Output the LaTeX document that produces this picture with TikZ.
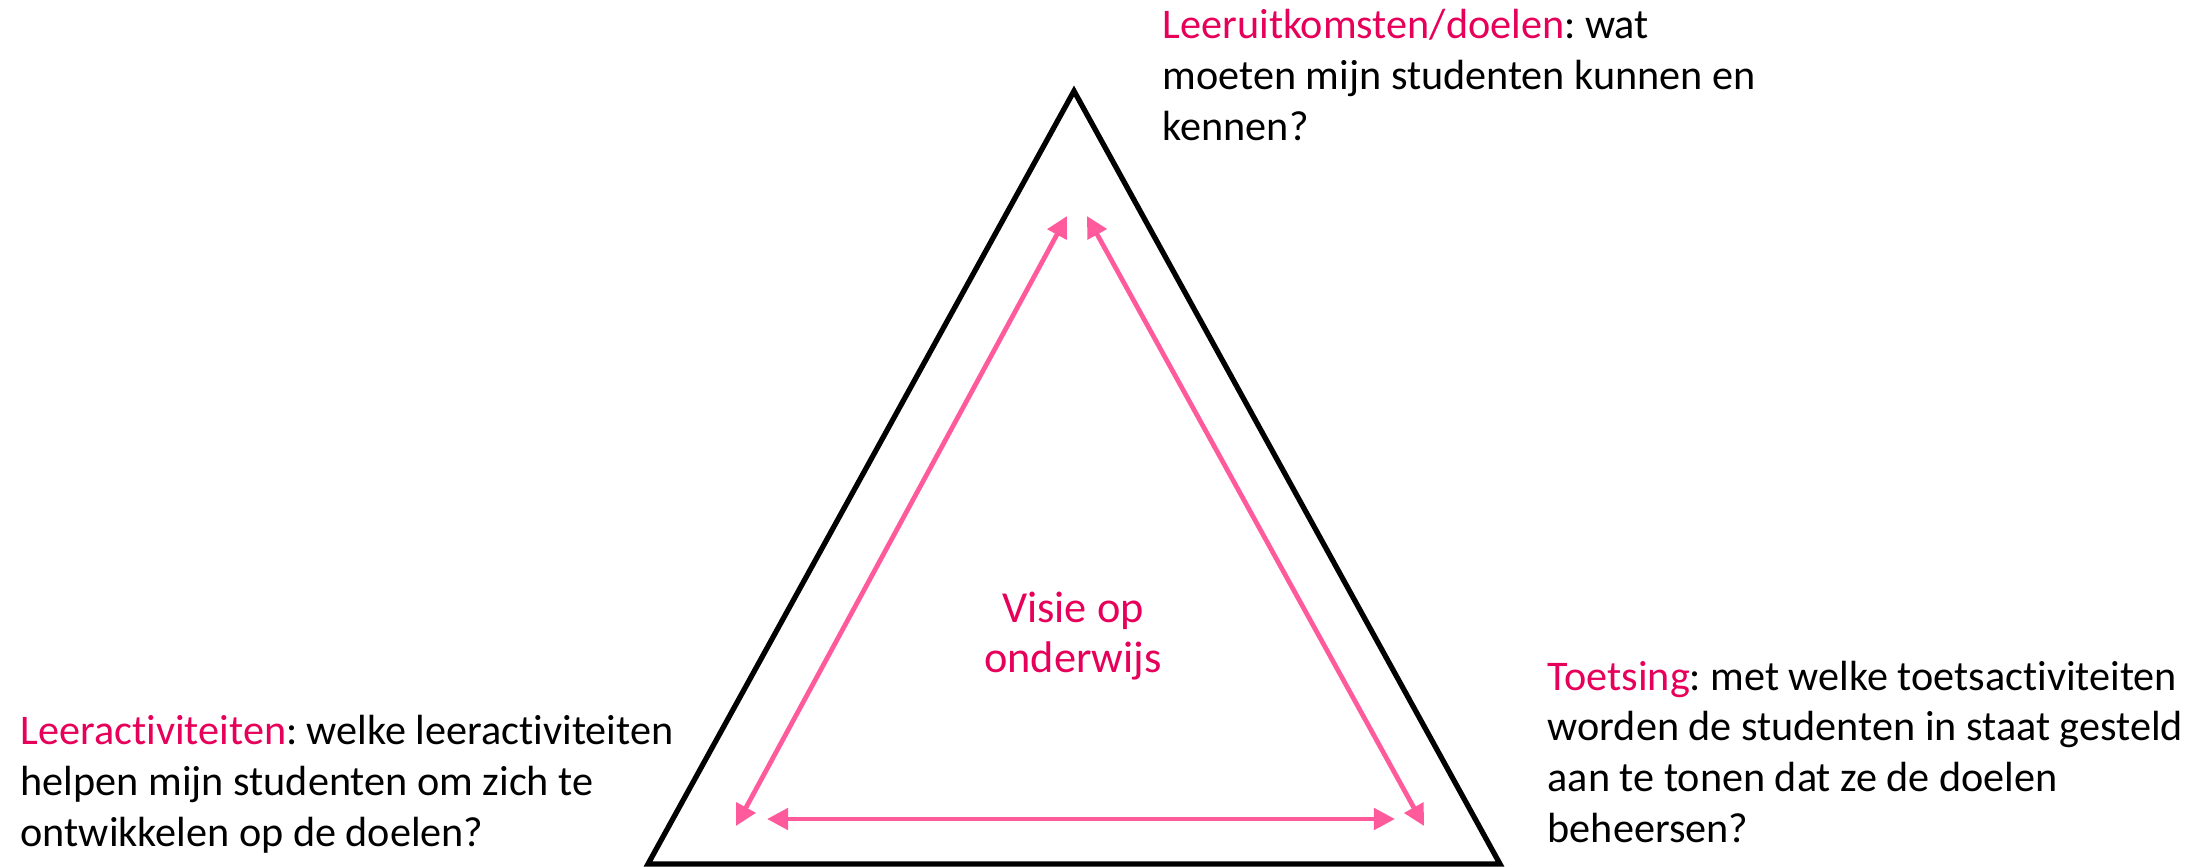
\documentclass[tikz,border=0pt]{standalone}
\usepackage{fontspec}
\setmainfont[Ligatures=NoCommon]{Carlito}
\usetikzlibrary{arrows.meta}
\definecolor{accent}{RGB}{230,0,90}
\definecolor{arrowpink}{RGB}{255,90,155}
\frenchspacing
\tikzset{
  desc/.style={anchor=base west, align=left, inner sep=0pt,
    font=\fontsize{12}{14.37}\selectfont},
  centre/.style={anchor=base, align=center, inner sep=0pt, text=accent,
    font=\fontsize{12.6}{13.95}\selectfont},
  frame/.style={line width=1.5pt, line join=miter},
  link/.style={{Triangle[length=6pt,width=6pt]}-{Triangle[length=6pt,width=6pt]},
    line width=1.35pt, draw=arrowpink}
}
\begin{document}
\begin{tikzpicture}[x=0.01cm,y=-0.01cm]
  \useasboundingbox (0,0) rectangle (2208,866);
  \draw
    (1074,91) coordinate (top)
    (648,864) coordinate (left)
    (1500,864) coordinate (right)
    (1067,216) coordinate (top1)
    (1087,216) coordinate (top2)
    (736,826) coordinate (left1)
    (767,819) coordinate (left2)
    (1395,819) coordinate (right1)
    (1424,826) coordinate (right2);
  \draw[frame] (top) -- (left) -- (right) -- cycle;
  \begin{scope}[link]
    \draw (top1) to (left1);
    \draw (top2) to (right2);
    \draw (left2) to (right1);
  \end{scope}
  % base anchor sits on the last line
  \node[desc] (doelen) at (1162,140)
    {\textcolor{accent}{Leeruitkomsten/doelen}: wat\\moeten mijn studenten kunnen en\\kennen?};
  \node[desc] (leer) at (20,846)
    {\textcolor{accent}{Leeractiviteiten}: welke leeractiviteiten\\helpen mijn studenten om zich te\\ontwikkelen op de doelen?};
  \node[desc] (toets) at (1547,842)
    {\textcolor{accent}{Toetsing}: met welke toetsactiviteiten\\worden de studenten in staat gesteld\\aan te tonen dat ze de doelen\\beheersen?};
  \node[centre] (visie) at (1073,672) {Visie op\\onderwijs};
\end{tikzpicture}
\end{document}
